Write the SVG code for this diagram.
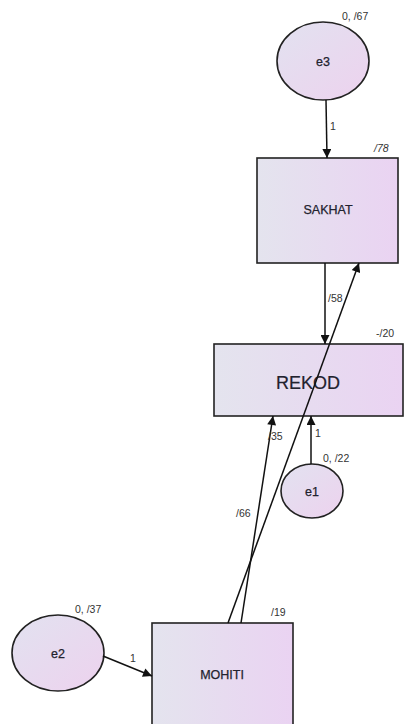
<svg xmlns="http://www.w3.org/2000/svg" width="405" height="724" viewBox="0 0 405 724">
<style>
.box{stroke:#222;stroke-width:1.6;fill:url(#gb)}
.ell{stroke:#222;stroke-width:1.6;fill:url(#ge)}
.name{font-family:"Liberation Sans",Arial,sans-serif;font-size:12.5px;fill:#22222e;text-anchor:middle;stroke:#22222e;stroke-width:0.25}
.lab{font-family:"Liberation Sans",Arial,sans-serif;font-size:10.5px;fill:#333}
.con{stroke:#111;stroke-width:1.5;fill:none;marker-end:url(#ah)}
</style>
<defs>
<linearGradient id="gb" x1="0" y1="0" x2="1" y2="0">
<stop offset="0" stop-color="#e4e4ee"/>
<stop offset="1" stop-color="#ead3f2"/>
</linearGradient>
<linearGradient id="ge" x1="0" y1="0" x2="1" y2="1">
<stop offset="0" stop-color="#e2e2f0"/>
<stop offset="1" stop-color="#edd2ee"/>
</linearGradient>
<marker id="ah" viewBox="0 0 10 10" refX="10" refY="5" markerWidth="13" markerHeight="9" orient="auto" markerUnits="userSpaceOnUse">
<path d="M0,0 L10,5 L0,10 z" fill="#111"/>
</marker>
</defs>
<g id="e3">
<ellipse class="ell" cx="323" cy="61" rx="46" ry="39"/>
<text class="name" x="323" y="66">e3</text>
<text class="lab" x="342" y="20">0, /67</text>
</g>
<g id="SAKHAT">
<rect class="box" x="257" y="158" width="141" height="105"/>
<text class="name" x="328" y="214">SAKHAT</text>
<text class="lab" x="374" y="152" font-style="italic">/78</text>
</g>
<g id="REKOD">
<rect class="box" x="214" y="344" width="189" height="72"/>
<text class="name" x="308" y="389" style="font-size:18px;stroke-width:0.2">REKOD</text>
<text class="lab" x="376" y="337">-/20</text>
</g>
<g id="e1">
<ellipse class="ell" cx="312" cy="491" rx="31" ry="27"/>
<text class="name" x="312" y="496">e1</text>
<text class="lab" x="323" y="462">0, /22</text>
</g>
<g id="e2">
<ellipse class="ell" cx="58" cy="653" rx="46" ry="38"/>
<text class="name" x="58" y="658">e2</text>
<text class="lab" x="75" y="613">0, /37</text>
</g>
<g id="MOHITI">
<rect class="box" x="152" y="623" width="141" height="110"/>
<text class="name" x="222" y="679">MOHITI</text>
<text class="lab" x="271" y="616">/19</text>
</g>
<g id="connectors">
<line class="con" x1="326" y1="100" x2="327" y2="158"/>
<line class="con" x1="325" y1="263" x2="325" y2="344"/>
<line class="con" x1="228" y1="623" x2="359" y2="263"/>
<line class="con" x1="241" y1="623" x2="273" y2="416"/>
<line class="con" x1="311" y1="464" x2="311" y2="416"/>
<line class="con" x1="103" y1="656" x2="152" y2="676"/>
<text class="lab" x="330" y="130">1</text>
<text class="lab" x="328" y="302">/58</text>
<text class="lab" x="268" y="440">/35</text>
<text class="lab" x="315" y="437">1</text>
<text class="lab" x="236" y="517">/66</text>
<text class="lab" x="130" y="662">1</text>
</g>
</svg>
